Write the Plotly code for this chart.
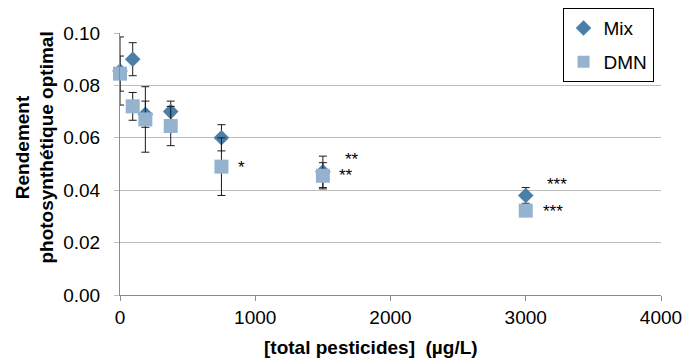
import plotly.graph_objects as go

# Concentrations (µg/L) and optimal photosynthetic yield
conc = [0, 94, 187.5, 375, 750, 1500, 3000]
mix_vals = [0.0855, 0.090, 0.069, 0.070, 0.060, 0.047, 0.038]
mix_err = [0.013, 0.0063, 0.005, 0.004, 0.005, 0.006, 0.003]
dmn_vals = [0.0845, 0.072, 0.067, 0.0645, 0.049, 0.0455, 0.0322]
dmn_err = [0.0067, 0.0053, 0.0125, 0.0075, 0.011, 0.005, 0.0]

# Significance marks
sig_x = [895, 1715, 1671, 3231, 3201]
sig_y = [0.0486, 0.0516, 0.0455, 0.0421, 0.0317]
sig_txt = ["*", "**", "**", "***", "***"]

x_ticks = [0, 1000, 2000, 3000, 4000]
y_ticks = [0.0, 0.02, 0.04, 0.06, 0.08, 0.10]

font = "Liberation Sans, Arial, sans-serif"
fs = 19

fig = go.Figure()
fig.add_trace(go.Scatter(
    x=conc, y=mix_vals, mode="markers", name="Mix", legendgroup="mix",
    marker=dict(symbol="diamond", size=12, color="#4B7FA7"),
    error_y=dict(type="data", array=mix_err, visible=True,
                 color="#1A1A1A", thickness=1, width=4),
    cliponaxis=False,
))
fig.add_trace(go.Scatter(
    x=conc, y=dmn_vals, mode="markers", name="DMN", legendgroup="dmn",
    marker=dict(symbol="square", size=14, color="#95B3CF"),
    error_y=dict(type="data", array=dmn_err, visible=True,
                 color="#1A1A1A", thickness=1, width=4),
    cliponaxis=False,
))

for xv, yv, t in zip(sig_x, sig_y, sig_txt):
    fig.add_annotation(x=xv, y=yv, text=t, showarrow=False,
                       xanchor="center", yanchor="middle",
                       font=dict(family=font, size=17, color="#000000"))

# Axis titles
fig.add_annotation(xref="paper", yref="paper", x=0.464, y=-0.201,
                   text="<b>[total pesticides]\u00a0\u00a0(µg/L)</b>",
                   showarrow=False, xanchor="center", yanchor="middle",
                   font=dict(family=font, size=fs, color="#000000"))
fig.add_annotation(xref="paper", yref="paper", x=-0.158, y=0.561,
                   text="<b>Rendement<br>photosynthétique optimal</b>",
                   showarrow=False, textangle=-90, xanchor="center", yanchor="middle",
                   font=dict(family=font, size=fs, color="#000000"))

fig.update_layout(
    width=685, height=358,
    margin=dict(l=120, r=24, t=33, b=63, autoexpand=False),
    paper_bgcolor="white", plot_bgcolor="white",
    font=dict(family=font, size=fs, color="#000000"),
    showlegend=True,
    legend=dict(x=0.818, y=1.095, xanchor="left", yanchor="top",
                bordercolor="#000000", borderwidth=1, bgcolor="white",
                font=dict(family=font, size=fs), itemsizing="constant",
                traceorder="grouped", tracegroupgap=6, itemwidth=30),
)
fig.update_xaxes(
    range=[0, 4000], tickvals=x_ticks, ticktext=[str(v) for v in x_ticks],
    showgrid=False, showline=True, linecolor="#8C8C8C", linewidth=1,
    ticks="outside", ticklen=5, tickcolor="#8C8C8C", zeroline=False,
    automargin=False,
)
fig.update_yaxes(
    range=[0, 0.10], tickvals=y_ticks, ticktext=[f"{v:.2f}" for v in y_ticks],
    showgrid=True, gridcolor="#BEBEBE", gridwidth=1,
    showline=True, linecolor="#8C8C8C", linewidth=1,
    ticks="outside", ticklen=5, tickcolor="#BEBEBE", zeroline=False,
    ticklabelstandoff=10, automargin=False,
)

fig.write_html("out.html")
